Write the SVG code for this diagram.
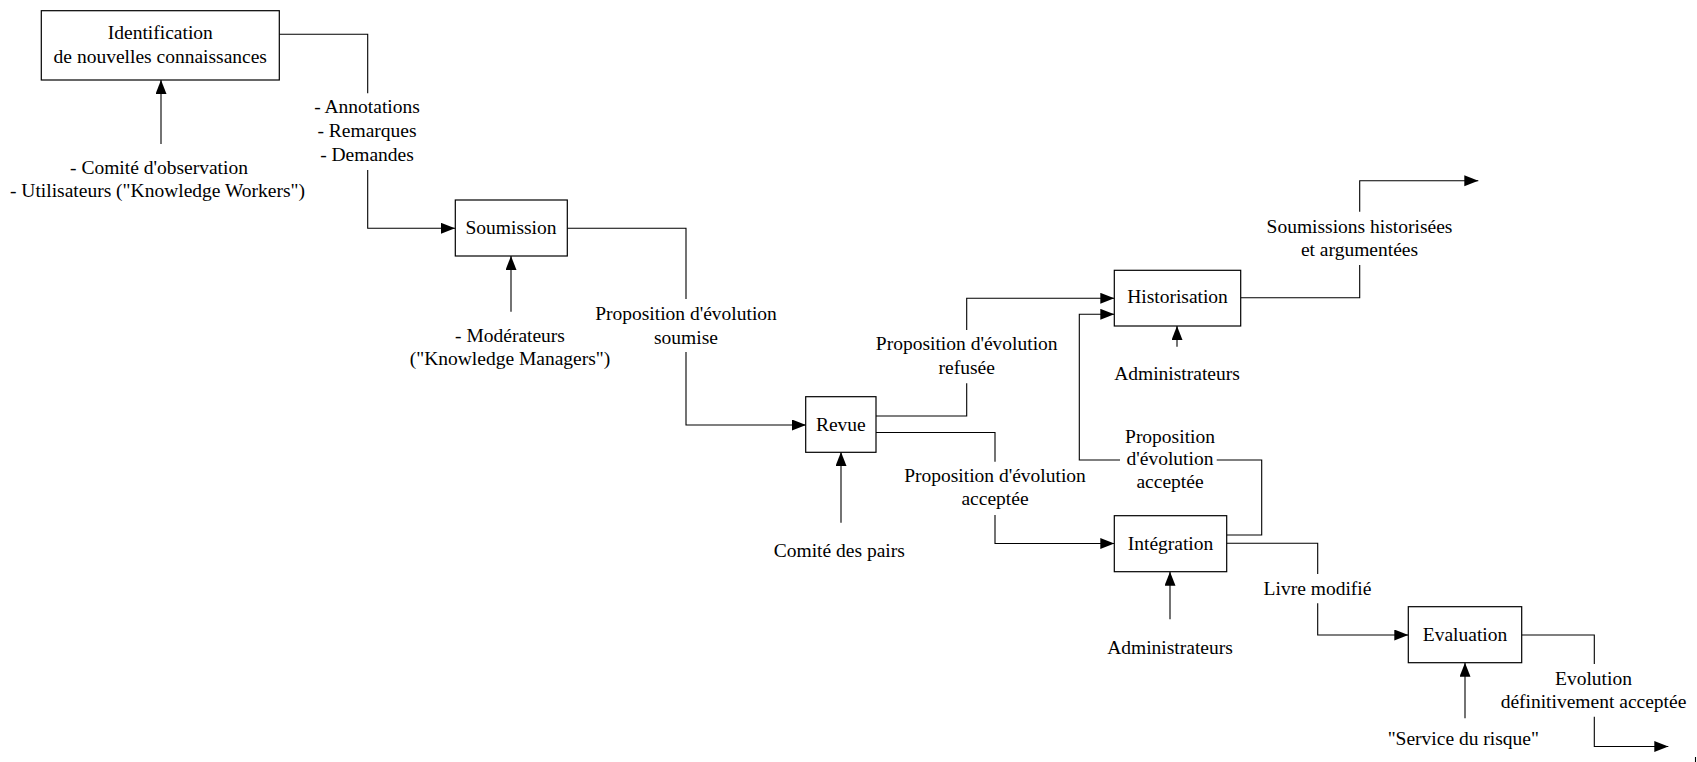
<svg xmlns="http://www.w3.org/2000/svg" width="1697" height="762" viewBox="0 0 1697 762">
<style>
.box{fill:#fff;stroke:#000;stroke-width:1.2}
.ln{fill:none;stroke:#000;stroke-width:1.1}
text{font-family:"Liberation Serif","Times New Roman",serif;font-size:19.5px;fill:#000;text-anchor:middle}
</style>
<defs>
<marker id="ah" markerUnits="userSpaceOnUse" markerWidth="15" markerHeight="12" refX="14" refY="5.5" orient="auto">
<path d="M0,0 L14,5.5 L0,11 z" fill="#000"/>
</marker>
</defs>
<rect width="1697" height="762" fill="#fff"/>
<g id="connectors">
<polyline class="ln" points="279.3,34.3 367.7,34.3 367.7,93.3"/>
<polyline class="ln" points="367.7,170 367.7,228.3 455,228.3" marker-end="url(#ah)"/>
<polyline class="ln" points="161,144 161,80" marker-end="url(#ah)"/>
<polyline class="ln" points="567.3,228.3 686,228.3 686,299"/>
<polyline class="ln" points="686,352 686,425 806,425" marker-end="url(#ah)"/>
<polyline class="ln" points="511,311.7 511,256" marker-end="url(#ah)"/>
<polyline class="ln" points="876,416 966.7,416 966.7,383.3"/>
<polyline class="ln" points="966.7,330 966.7,298.3 1114.3,298.3" marker-end="url(#ah)"/>
<polyline class="ln" points="876,432.5 995,432.5 995,461.7"/>
<polyline class="ln" points="995,515 995,543.5 1114.3,543.5" marker-end="url(#ah)"/>
<polyline class="ln" points="841,522.7 841,452" marker-end="url(#ah)"/>
<polyline class="ln" points="1226.7,535 1261.7,535 1261.7,460 1216.7,460"/>
<polyline class="ln" points="1120,460 1079.3,460 1079.3,314.3 1114.3,314.3" marker-end="url(#ah)"/>
<polyline class="ln" points="1177,346.7 1177,326" marker-end="url(#ah)"/>
<polyline class="ln" points="1240.7,297.7 1359.7,297.7 1359.7,265"/>
<polyline class="ln" points="1359.7,211.7 1359.7,180.7 1478.3,180.7" marker-end="url(#ah)"/>
<polyline class="ln" points="1226.7,543.3 1317.7,543.3 1317.7,574"/>
<polyline class="ln" points="1317.7,603.3 1317.7,635 1408.3,635" marker-end="url(#ah)"/>
<polyline class="ln" points="1170,619.3 1170,571.7" marker-end="url(#ah)"/>
<polyline class="ln" points="1521.7,635 1594.3,635 1594.3,664"/>
<polyline class="ln" points="1594.3,716.7 1594.3,746.5 1668.3,746.5" marker-end="url(#ah)"/>
<polyline class="ln" points="1465,718.3 1465,662.7" marker-end="url(#ah)"/>
<line class="ln" x1="1695.5" y1="757" x2="1695.5" y2="762"/>
</g>
<g id="labels">
<text x="367" y="113.3">- Annotations</text>
<text x="367" y="137">- Remarques</text>
<text x="367" y="160.5">- Demandes</text>
<text x="159" y="173.5">- Comité d'observation</text>
<text x="157.5" y="197">- Utilisateurs ("Knowledge Workers")</text>
<text x="686" y="320">Proposition d'évolution</text>
<text x="686" y="344">soumise</text>
<text x="510" y="341.7">- Modérateurs</text>
<text x="510" y="365">("Knowledge Managers")</text>
<text x="966.7" y="350">Proposition d'évolution</text>
<text x="966.7" y="374">refusée</text>
<text x="995" y="481.7">Proposition d'évolution</text>
<text x="995" y="505">acceptée</text>
<text x="839.3" y="556.7">Comité des pairs</text>
<text x="1170" y="442.7">Proposition</text>
<text x="1170" y="465">d'évolution</text>
<text x="1170" y="488.3">acceptée</text>
<text x="1177" y="380">Administrateurs</text>
<text x="1359.5" y="233.3">Soumissions historisées</text>
<text x="1359.5" y="256">et argumentées</text>
<text x="1317.5" y="595">Livre modifié</text>
<text x="1170" y="654">Administrateurs</text>
<text x="1593.5" y="685">Evolution</text>
<text x="1593.5" y="708.3">définitivement acceptée</text>
<text x="1463.3" y="745">"Service du risque"</text>
</g>
<g id="node-identification">
<rect class="box" x="41.3" y="10.7" width="238" height="69.3"/>
<text x="160.3" y="39">Identification</text>
<text x="160.3" y="63">de nouvelles connaissances</text>
</g>
<g id="node-soumission">
<rect class="box" x="455.3" y="200" width="112" height="56"/>
<text x="511" y="234">Soumission</text>
</g>
<g id="node-revue">
<rect class="box" x="805.7" y="396.7" width="70.3" height="55.6"/>
<text x="840.8" y="431">Revue</text>
</g>
<g id="node-historisation">
<rect class="box" x="1114.3" y="270.3" width="126.4" height="55.7"/>
<text x="1177.5" y="303.3">Historisation</text>
</g>
<g id="node-integration">
<rect class="box" x="1114.3" y="515.7" width="112.4" height="56"/>
<text x="1170.5" y="550">Intégration</text>
</g>
<g id="node-evaluation">
<rect class="box" x="1408.3" y="606.7" width="113.4" height="56"/>
<text x="1465" y="640.7">Evaluation</text>
</g>
</svg>
